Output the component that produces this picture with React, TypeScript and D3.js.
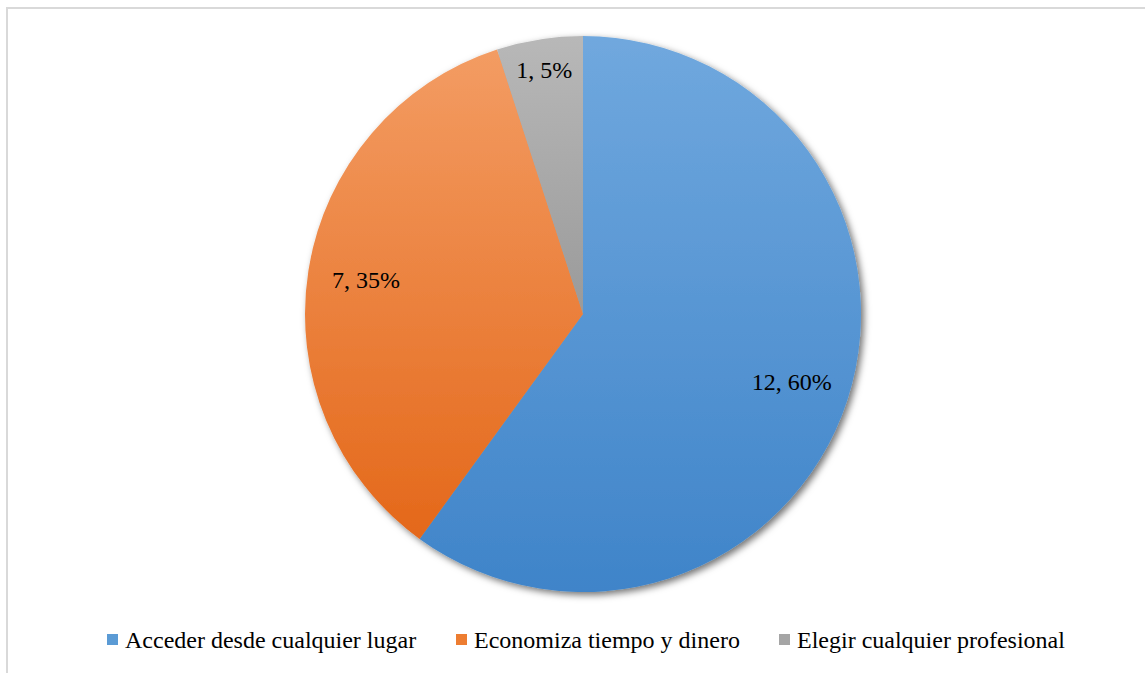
import React from "react";
import * as d3 from "d3";

const categories = ["Acceder desde cualquier lugar", "Economiza tiempo y dinero", "Elegir cualquier profesional"];
const values = [12, 7, 1];
const percents = ["60%", "35%", "5%"];
const colorsTop = ["#70a8de", "#f39c63", "#b8b8b8"];
const colorsBottom = ["#3f84c9", "#e4681a", "#9a9a9a"];
const swatch = ["#5b9bd5", "#ed7d31", "#a5a5a5"];

const W = 1145;
const H = 673;

export default function App() {
  const cx = 583;
  const cy = 314;
  const r = 278;
  const total = d3.sum(values);
  const pie = d3.pie<number>().sort(null).value((d) => d)(values);
  const arc = d3.arc<d3.PieArcDatum<number>>().innerRadius(0).outerRadius(r);
  const font = "'Liberation Serif', 'Times New Roman', serif";

  const legendX = [107, 456, 779];
  return (
    <svg width={W} height={H} style={{ position: "absolute", left: 0, top: 0 }}>
      <defs>
        <filter id="sh" x="-20%" y="-20%" width="140%" height="140%">
          <feDropShadow dx="3" dy="3" stdDeviation="3.5" floodColor="#000" floodOpacity="0.55" />
        </filter>
        {values.map((_, i) => (
          <linearGradient key={i} id={`g${i}`} x1="0" y1="0" x2="0" y2="1">
            <stop offset="0" stopColor={colorsTop[i]} />
            <stop offset="1" stopColor={colorsBottom[i]} />
          </linearGradient>
        ))}
      </defs>
      <rect x={7} y={8} width={W + 10} height={H + 10} fill="#fff" stroke="#d9d9d9" strokeWidth={2} />
      <g transform={`translate(${cx},${cy})`}>
        <g filter="url(#sh)">
          {pie.map((p, i) => (
            <path key={i} d={arc(p) || ""} fill={`url(#g${i})`} />
          ))}
        </g>
        {pie.map((p, i) => {
          const share = values[i] / total;
          const lr = r * (share < 0.1 ? 0.89 : 0.79);
          const la = d3.arc<d3.PieArcDatum<number>>().innerRadius(lr).outerRadius(lr);
          const [x, y] = la.centroid(p);
          return (
            <text key={i} x={x} y={y} textAnchor="middle" dominantBaseline="central" fontFamily={font} fontSize={24} fill="#000">
              {`${values[i]}, ${percents[i]}`}
            </text>
          );
        })}
      </g>
      {categories.map((c, i) => (
        <g key={c}>
          <rect x={legendX[i]} y={634} width={11} height={11} fill={swatch[i]} />
          <text x={legendX[i] + 18} y={648} fontFamily={font} fontSize={24} fill="#000">
            {c}
          </text>
        </g>
      ))}
    </svg>
  );
}
